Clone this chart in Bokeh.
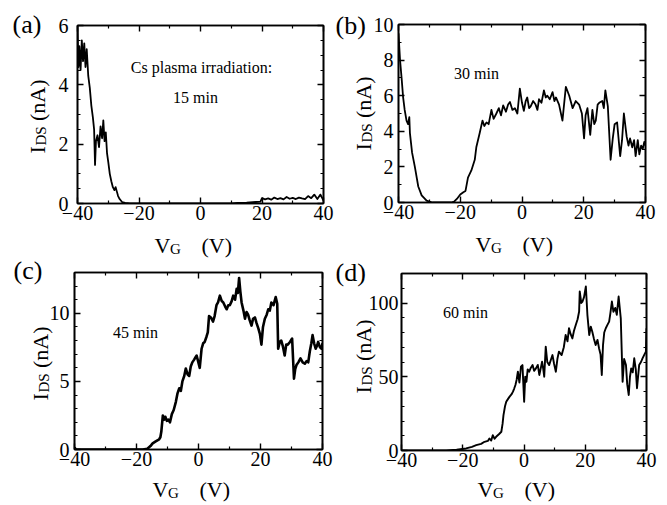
import math
from bokeh.plotting import figure
from bokeh.layouts import column
from bokeh.models import Label, Range1d, FixedTicker, LinearAxis, GridBox
from bokeh.embed import file_html
from bokeh.resources import INLINE

FONT = "Liberation Serif"

# ---------------- data ----------------
vg_ticks = [-40, -20, 0, 20, 40]
vg_minor = [-30, -10, 10, 30]

# (a) 15 min
xa = [-40, -39.7, -39.4, -39, -38.6, -38.2, -37.8, -37.4, -37,
      -36.5, -36, -35.5, -35, -34.6, -34.3, -34, -33.5, -33, -32.5,
      -32, -31.6, -31.2, -30.8, -30.4, -30, -29.5, -29, -28.5, -28,
      -27.6, -27.2, -26.8, -26.3, -25.5, -24.5, -23, -20, -15, -10,
      -5, 0, 5, 10, 12, 15, 18, 19.5, 20, 21,
      22, 23, 24, 25, 26, 27, 28, 29, 30, 31, 32, 33, 34, 35, 36, 37, 38, 39, 40]
ya = [6.0, 4.6, 5.3, 4.5, 5.5, 4.8, 5.4, 4.6, 5.2,
      4.3, 3.9, 3.3, 2.9, 2.5, 1.3, 2.1, 2.3, 1.9, 2.6,
      2.2, 2.8, 2.1, 2.4, 1.7, 1.4, 1.0, 0.75, 0.55, 0.45,
      0.55, 0.4, 0.25, 0.15, 0.05, 0.02, 0.0, 0.0, 0.0, 0.0,
      0.0, 0.0, 0.0, 0.0, 0.02, 0.03, 0.05, 0.06, 0.18, 0.14,
      0.17, 0.13, 0.2, 0.15, 0.18, 0.14, 0.22, 0.16, 0.19, 0.15, 0.2, 0.17, 0.15, 0.25, 0.18, 0.3, 0.15, 0.3, 0.1]
ya_ticks = [0, 2, 4, 6]
ya_minor = [0.5, 1, 1.5, 2.5, 3, 3.5, 4.5, 5, 5.5]

# (b) 30 min
xb = [-40, -39.5, -39, -38.5, -38, -37.4, -36.9, -36.5, -36.3, -35.6,
      -34.7, -33.6, -32.5, -30.9, -29, -26, -23, -22, -21.1, -20,
      -19, -18.3, -17.5, -16.4, -15.3, -14.8, -13.7, -12.8, -12.2, -11.5,
      -10.8, -9.9, -9.2, -8.3, -7.5, -6.8, -6.1, -5.2, -4.5, -3.9,
      -3.1, -2.3, -1.5, -0.7, 0, 0.6, 1.2, 1.7, 2.3, 2.8,
      3.6, 4.4, 5.0, 5.5, 6.3, 7.1, 7.7, 8.2, 9.0, 9.9,
      10.5, 11, 12, 13.1, 14.2, 15.3, 16.4, 17.4, 18.5, 19.4,
      20.1, 20.6, 21.2, 22.1, 22.8, 23.4, 23.9, 24.5, 25, 26,
      26.5, 27.0, 27.8, 28.7, 29.4, 30, 30.8, 31.8, 32.4, 33,
      33.9, 34.5, 35.0, 35.7, 36.3, 36.8, 37.5, 38.0, 38.6, 39.1,
      39.6, 40]
yb = [9.5, 8.0, 7.0, 5.9, 5.2, 4.6, 4.4, 4.8, 3.9, 2.8,
      2.0, 0.9, 0.4, 0.1, 0.0, 0.0, 0.0, 0.05, 0.2, 0.45,
      0.58, 0.65, 1.4, 1.8, 2.4, 3.1, 3.9, 4.6, 4.3, 4.5,
      4.4, 5.2, 4.7, 5.0, 5.3, 4.9, 5.45, 5.1, 5.5, 5.65,
      5.2, 5.3, 5.0, 6.4, 5.6, 5.15, 5.7, 5.9, 5.3, 5.4,
      5.7, 5.5, 5.2, 5.8, 5.6, 6.3, 5.9, 6.0, 5.8, 6.2,
      5.7, 5.9, 5.5, 4.6, 6.5, 6.0, 5.3, 5.7, 5.5, 5.0,
      3.6, 4.9, 5.3, 3.8, 5.2, 4.4, 4.6, 5.5, 5.6, 5.7,
      5.3, 6.3, 5.4, 2.4, 3.6, 4.4, 4.5, 2.6, 3.5, 5.0,
      3.7, 3.2, 3.6, 3.1, 3.5, 2.6, 3.5, 2.7, 3.2, 3.0,
      3.4, 3.2]
yb_ticks = [0, 2, 4, 6, 8, 10]
yb_minor = [1, 3, 5, 7, 9]

# (c) 45 min
xc = [-40, -39.5, -39, -30, -20, -18, -16.5, -15.5, -14.8, -13.8,
      -12.7, -12.3, -12.0, -11.5, -11.0, -10.7, -10.2, -9.7, -9.2, -8.6,
      -8.0, -7.3, -6.8, -6.2, -5.7, -5.2, -4.6, -4.1, -3.5, -3.0,
      -2.5, -2.0, -1.4, -0.9, -0.6, 0.4, 1.0, 1.5, 2.0, 2.6,
      3.0, 3.4, 4.0, 4.7, 5.2, 5.8, 6.3, 6.9, 7.5, 8.0,
      8.6, 9.1, 9.6, 10.1, 10.7, 11.2, 11.8, 12.3, 12.7, 13.1,
      13.5, 13.9, 14.5, 15.0, 15.5, 16.0, 16.5, 17.1, 17.6, 18.2,
      18.7, 19.3, 19.8, 20.3, 20.8, 21.4, 22.0, 22.5, 23.0, 23.5,
      24.2, 24.9, 25.4, 25.7, 26.2, 26.7, 27.2, 27.8, 28.3, 28.8,
      29.5, 30.2, 30.8, 31.2, 31.6, 32.2, 32.9, 33.6, 34.3, 34.9,
      35.4, 35.9, 36.4, 36.8, 37.3, 37.8, 38.2, 38.6, 39.2, 39.7, 40]
yc = [0.15, 0.0, 0.0, 0.0, 0.0, 0.0, 0.05, 0.25, 0.45, 0.6,
      0.75, 0.9, 1.3, 2.5, 2.2, 2.4, 2.1, 2.2, 2.0, 2.6,
      2.9, 3.5, 4.1, 4.5, 4.3, 5.0, 5.4, 5.95, 5.5, 5.4,
      6.1, 6.4, 6.6, 6.8, 6.9, 6.0, 7.4, 7.8, 7.9, 8.3,
      8.6, 9.8, 9.7, 9.4, 9.8, 10.6, 10.8, 11.3, 10.9, 10.8,
      10.5, 10.3, 10.6, 10.6, 10.9, 11.3, 11.0, 11.8, 11.5, 12.6,
      11.6, 10.8, 10.2, 9.6, 10.1, 9.9, 9.5, 9.1, 9.6, 9.7,
      9.3, 8.9, 8.5, 7.7, 9.0, 9.6, 9.9, 10.3, 10.2, 10.8,
      10.6, 11.2, 10.7, 7.4, 7.9, 8.0, 7.6, 6.9, 7.7, 7.7,
      7.9, 8.15, 5.2, 5.9, 6.2, 6.4, 6.7, 6.4, 6.3, 6.5,
      6.4, 7.2, 7.8, 8.4, 7.8, 7.4, 7.6, 7.9, 7.5, 7.4, 7.8]
yc_ticks = [0, 5, 10]
yc_minor = [1, 2, 3, 4, 6, 7, 8, 9, 11, 12]

# (d) 60 min
xd = [-40, -30, -25.4, -22, -18.9, -17, -15.6, -14, -12.9, -11.8,
      -11.3, -10.7, -10.2, -9.6, -9.1, -8.2, -7.4, -7.0, -6.7, -6.2,
      -5.8, -5.2, -4.7, -4.1, -3.6, -3.2, -2.8, -2.4, -2.0, -1.5,
      -1.0, -0.5, 0.05, 0.4, 0.8, 1.2, 1.7, 2.2, 2.8, 3.3,
      3.9, 4.5, 5.0, 5.5, 5.9, 6.3, 6.6, 7.1, 7.6, 8.2,
      8.7, 9.3, 9.8, 10.4, 10.9, 11.4, 12.3, 13.0, 13.6, 14.2,
      14.7, 15.2, 15.8, 16.3, 16.9, 17.5, 18.0, 18.2, 18.7, 19.1,
      19.6, 20.2, 20.7, 21.3, 21.8, 22.3, 22.8, 23.4, 24.0, 24.5,
      25.0, 25.4, 25.8, 26.2, 26.7, 27.2, 27.8, 28.2, 28.7, 29.2,
      29.8, 30.3, 30.9, 31.6, 32.2, 32.7, 33.3, 33.7, 34.2, 34.6,
      35.0, 35.5, 36.0, 36.5, 36.9, 37.6, 38.2, 38.7, 39.3, 39.8, 40]
yd = [0, 0, 0, 0.5, 1.4, 2.5, 3.6, 4.5, 5.9, 6.5,
      8.1, 6.8, 10.4, 8.0, 9.3, 11.0, 12.7, 18.0, 24.0, 30.0,
      33.0, 35.0, 36.5, 38.0, 39.9, 42.0, 44.4, 48.0, 53.4, 46.0,
      56.8, 57.9, 33.0, 50.0, 46.6, 55.0, 53.4, 56.0, 57.9, 54.0,
      55.7, 58.0, 51.2, 56.0, 60.2, 55.0, 50.0, 70.4, 60.0, 57.9,
      61.0, 64.7, 59.0, 53.4, 62.0, 67.0, 64.7, 70.0, 78.3, 74.0,
      82.9, 79.0, 76.0, 81.0, 85.1, 89.0, 94.2, 107.8, 100.0, 101.0,
      104.0, 111.2, 92.0, 78.3, 84.0, 80.5, 76.0, 71.5, 75.0, 69.3,
      65.0, 51.2, 71.5, 80.0, 82.9, 85.0, 87.4, 93.0, 101.0, 94.0,
      96.7, 92.0, 104.4, 89.6, 46.6, 62.0, 57.9, 45.0, 37.6, 50.0,
      55.7, 53.0, 62.5, 55.0, 42.2, 57.9, 60.0, 62.5, 65.0, 67.0, 82.9]
yd_ticks = [0, 50, 100]
yd_minor = [10, 20, 30, 40, 60, 70, 80, 90, 110]

tags = ["(a)", "(b)", "(c)", "(d)"]
notes = [["Cs plasma irradiation:", "15 min"], ["30 min"], ["45 min"], ["60 min"]]


def style_axis(ax, show_labels, standoff):
    ax.axis_line_color = "black"
    ax.axis_line_width = 1.6
    ax.major_tick_line_color = "black"
    ax.major_tick_line_width = 1.4
    ax.minor_tick_line_color = "black"
    ax.minor_tick_line_width = 1.2
    ax.major_tick_in = 6
    ax.major_tick_out = 0
    ax.minor_tick_in = 3
    ax.minor_tick_out = 0
    if show_labels:
        ax.major_label_text_font = FONT
        ax.major_label_text_font_size = "20px"
        ax.major_label_text_color = "black"
        ax.major_label_standoff = standoff
    else:
        ax.major_label_text_font_size = "2px"
        ax.major_label_text_color = None
        ax.major_label_standoff = 0


def panel(xs, ys, ymax, yt, ym, origin, size, frame, lw, ystand):
    ox, oy = origin
    W, H = size
    fl, fr, ft, fb = frame  # page coords of the plot frame
    p = figure(width=W, height=H, x_range=Range1d(-40, 40), y_range=Range1d(0, ymax),
               output_backend="svg", toolbar_location=None,
               min_border_left=fl - ox, min_border_right=ox + W - fr,
               min_border_top=ft - oy, min_border_bottom=oy + H - fb)
    p.xgrid.visible = False
    p.ygrid.visible = False
    p.outline_line_color = "black"
    p.outline_line_width = 1.6
    p.background_fill_color = "white"
    p.border_fill_color = "white"

    p.xaxis.ticker = FixedTicker(ticks=vg_ticks, minor_ticks=vg_minor)
    p.yaxis.ticker = FixedTicker(ticks=yt, minor_ticks=ym)
    style_axis(p.xaxis[0], True, 2)
    style_axis(p.yaxis[0], True, ystand)
    top = LinearAxis(ticker=FixedTicker(ticks=vg_ticks, minor_ticks=vg_minor))
    right = LinearAxis(ticker=FixedTicker(ticks=yt, minor_ticks=ym))
    style_axis(top, False, 0)
    style_axis(right, False, 0)
    p.add_layout(top, "above")
    p.add_layout(right, "right")

    p.line(xs, ys, line_color="black", line_width=lw, line_join="round")
    return p


pa = panel(xa, ya, 6, ya_ticks, ya_minor, (0, 0), (335, 252), (77, 323, 25, 203), 1.8, 9)
pb = panel(xb, yb, 10, yb_ticks, yb_minor, (335, 0), (332, 252), (398, 645, 24, 202), 1.8, 5)
pc = panel(xc, yc, 13, yc_ticks, yc_minor, (0, 252), (335, 253), (74, 322, 272, 449), 2.6, 5)
pd = panel(xd, yd, 120, yd_ticks, yd_minor, (335, 252), (332, 253), (401, 646, 273, 450), 1.9, 3)

# transparent text layer on top of the four panels (page pixel coordinates)
ov = figure(width=667, height=505, x_range=Range1d(0, 667), y_range=Range1d(505, 0),
            x_axis_type=None, y_axis_type=None, output_backend="svg", toolbar_location=None,
            min_border=0, min_border_left=0, min_border_right=0, min_border_top=0,
            min_border_bottom=0)
ov.outline_line_color = None
ov.background_fill_color = None
ov.border_fill_color = None
ov.grid.visible = False


def lab(px, py, text, size_px, align="left", angle=0.0):
    ov.add_layout(Label(x=px, y=py, text=text, text_font=FONT,
                        text_font_size=f"{size_px}px", text_color="black",
                        text_align=align, text_baseline="alphabetic", angle=angle))


def ylabel(bx, by):
    lab(bx, by, "I", 22, angle=math.pi / 2)
    lab(bx + 3, by - 8, "DS", 15, angle=math.pi / 2)
    lab(bx, by - 32.5, "(nA)", 22, angle=math.pi / 2)


def xlabel(vx, vy):
    lab(vx, vy, "V", 22)
    lab(vx + 15.5, vy + 3.5, "G", 15)
    lab(vx + 47, vy, "(V)", 22)


for t, (tx, ty) in zip(tags, [(12, 24), (335, 25), (13, 270), (335, 272)]):
    lab(tx, ty, t, 26)
for lines, pos in zip(notes, [[(201, 67), (195, 97)], [(476, 73)], [(135, 332)], [(465, 312)]]):
    for t, (nx, ny) in zip(lines, pos):
        lab(nx, ny, t, 16, align="center")
for bx, by in [(37, 153), (363, 150), (40, 400), (363, 393)]:
    ylabel(bx, by)
for vx, vy in [(154, 245), (475, 244), (152, 489), (477, 489)]:
    xlabel(vx, vy)

layout = GridBox(children=[(column(pa), 0, 0), (column(pb), 0, 1), (column(pc), 1, 0),
                           (column(pd), 1, 1), (column(ov), 0, 0, 2, 2)])
open("out.html", "w").write(file_html(layout, INLINE))
